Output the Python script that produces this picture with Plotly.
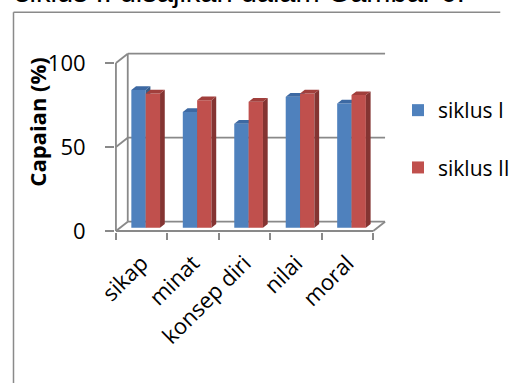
import plotly.graph_objects as go

# ---- data -------------------------------------------------------------
categories = ["sikap", "minat", "konsep diri", "nilai", "moral"]
siklus_1 = [82, 69, 62, 78, 74]
siklus_2 = [80, 76, 75, 80, 79]
series_names = ["siklus I", "siklus II"]
y_ticks = [0, 50, 100]

# ---- geometry of the pseudo 3-D box ------------------------------------
W, H = 521, 383
L, R, T, B = 115, 119, 52, 151
plot_w, plot_h = W - L - R, H - T - B
PX_X = 54.5          # pixels per category slot
PX_Y = 1.68          # pixels per percentage point
n = len(categories)
x_lo, x_hi = -0.5, n - 0.5
DX, DY = 12.5 / PX_X, 9.3 / PX_Y          # full depth of the box
x_range = [x_lo - 1 / PX_X, x_lo - 1 / PX_X + plot_w / PX_X]
y_range = [-1 / PX_Y, (plot_h - 1) / PX_Y]

BW = 15.2 / PX_X                          # bar width
OX, OY = 0.34 * DX, 0.34 * DY             # bar front plane inside the box
BD, BE = 0.4 * DX, 0.4 * DY               # bar depth

GRID = "#898989"
FONT = "Open Sans"

front = ["#4F81BD", "#C0504D"]
top_c = ["#3D69A3", "#A13F3C"]
side_c = ["#385D8A", "#843432"]


def px_to_paper_x(px):
    return (px - L) / plot_w


def px_to_paper_y(py):
    return (H - B - py) / plot_h


fig = go.Figure()

for s, values in enumerate([siklus_1, siklus_2]):
    xa, ya = ("x", "y") if s == 0 else ("x2", "y2")
    fig.add_trace(go.Bar(
        x=list(range(n)), y=values, base=OY, width=BW,
        offset=OX - BW + s * BW,
        marker=dict(color=front[s], line=dict(width=0)),
        name=series_names[s], legendgroup=series_names[s],
        xaxis=xa, yaxis=ya, hoverinfo="name+y",
    ))
    sx, sy, cx, cy = [], [], [], []
    for i, v in enumerate(values):
        left = i + OX - BW + s * BW
        right = left + BW
        top = OY + v
        sx += [right, right + BD, right + BD, right, right, None]
        sy += [OY, OY + BE, top + BE, top, OY, None]
        cx += [left, left + BD, right + BD, right, left, None]
        cy += [top, top + BE, top + BE, top, top, None]
    for xs, ys, col in [(sx, sy, side_c[s]), (cx, cy, top_c[s])]:
        fig.add_trace(go.Scatter(
            x=xs, y=ys, mode="lines", fill="toself", fillcolor=col,
            line=dict(width=0), showlegend=False, hoverinfo="skip",
            xaxis=xa, yaxis=ya,
        ))

# ---- walls, floor and gridlines ---------------------------------------
shapes = []


def seg(x0, y0, x1, y1):
    shapes.append(dict(type="line", xref="x", yref="y", x0=x0, y0=y0,
                       x1=x1, y1=y1, layer="below",
                       line=dict(color=GRID, width=1.8)))


for v in y_ticks:
    seg(x_lo, v, x_lo + DX, v + DY)
    seg(x_lo + DX, v + DY, x_hi + DX, v + DY)
seg(x_lo + DX, DY, x_lo + DX, y_ticks[-1] + DY)
seg(x_lo, 0, x_lo, y_ticks[-1])
seg(x_lo, 0, x_hi, 0)
seg(x_hi, 0, x_hi + DX, DY)

# chart frame
FRAME_X, FRAME_Y = 7.5, 12.3
for x0, y0, x1, y1 in [(FRAME_X, FRAME_Y, FRAME_X, H + 2),
                       (FRAME_X, FRAME_Y, W + 2, FRAME_Y)]:
    shapes.append(dict(type="line", xref="paper", yref="paper",
                       x0=px_to_paper_x(x0), y0=px_to_paper_y(y0),
                       x1=px_to_paper_x(x1), y1=px_to_paper_y(y1),
                       line=dict(color="#8A8A8A", width=1.5)))

annotations = [
    dict(text="siklus II disajikan dalam Gambar 6.", xref="paper", yref="paper",
         x=px_to_paper_x(7), y=px_to_paper_y(-8), xanchor="left",
         yanchor="middle", showarrow=False,
         font=dict(family="Liberation Sans, Arial", size=29, color="#000")),
    dict(text="<b>Capaian (%)</b>", xref="paper", yref="paper",
         x=px_to_paper_x(32), y=px_to_paper_y(122), textangle=-90,
         xanchor="center", yanchor="middle", showarrow=False,
         font=dict(family=FONT, size=22, color="#000")),
]

fig.update_layout(
    width=W, height=H,
    margin=dict(l=L, r=R, t=T, b=B, pad=0),
    paper_bgcolor="white", plot_bgcolor="white",
    barmode="overlay",
    shapes=shapes, annotations=annotations,
    showlegend=True,
    legend=dict(xref="container", yref="container",
                x=398 / W, y=1 - 90 / H, xanchor="left", yanchor="top",
                font=dict(family=FONT, size=21, color="#000"),
                tracegroupgap=27, bgcolor="rgba(0,0,0,0)"),
    xaxis=dict(range=x_range, tickmode="array",
               tickvals=[i - 0.5 for i in range(n + 1)],
               ticks="outside", ticklen=7, tickwidth=1.8, tickcolor=GRID,
               showticklabels=False, showgrid=False, zeroline=False,
               showline=False, fixedrange=True),
    xaxis2=dict(range=x_range, overlaying="x", anchor="y2", side="bottom",
                tickmode="array", tickvals=list(range(n)), ticktext=categories,
                tickangle=-45, ticks="", showgrid=False, zeroline=False,
                showline=False, fixedrange=True, ticklabelstandoff=13,
                tickfont=dict(family=FONT, size=22, color="#000")),
    yaxis=dict(range=y_range, tickmode="array", tickvals=y_ticks,
               ticks="outside", ticklen=9, tickwidth=1.8, tickcolor=GRID,
               showgrid=False, zeroline=False, showline=False,
               ticklabelstandoff=15, fixedrange=True,
               tickfont=dict(family=FONT, size=22, color="#000")),
    yaxis2=dict(range=y_range, overlaying="y", visible=False, fixedrange=True),
)

fig.write_html("out.html")
